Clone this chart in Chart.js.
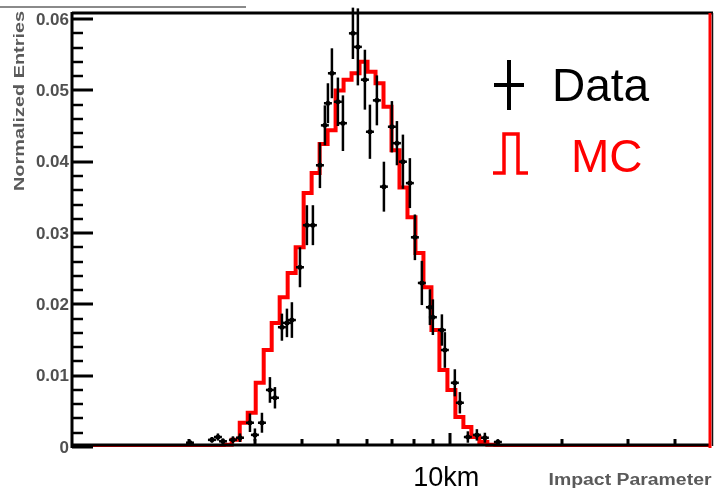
<!DOCTYPE html>
<html>
<head>
<meta charset="utf-8">
<script src="https://cdn.jsdelivr.net/npm/chart.js@4"></script>
<style>
  html, body { margin: 0; padding: 0; background: #fff; overflow: hidden; }
  canvas { display: block; }
</style>
</head>
<body>
<canvas id="chart" width="715" height="491"></canvas>
<script>
// ============ DATA ============

// MC histogram: one value per bin, bins 0..79 on the bin axis
const mcValues = [
    0, 0, 0, 0, 0, 0, 0, 0, 0, 0,
    0, 0, 0, 0, 0, 0, 0, 0, 0, 0,
    0.0003, 0.0010, 0.0034, 0.0048, 0.0090, 0.0136, 0.0174, 0.0210, 0.0244, 0.0280,
    0.0356, 0.0384, 0.0425, 0.0444, 0.0500, 0.0515, 0.0524, 0.0540, 0.0526, 0.0510,
    0.0477, 0.0416, 0.0364, 0.0322, 0.0272, 0.0224, 0.0164, 0.0108, 0.0080, 0.0042,
    0.0028, 0.0014, 0.0007, 0.0003, 0, 0, 0, 0, 0, 0,
    0, 0, 0, 0, 0, 0, 0, 0, 0, 0,
    0, 0, 0, 0, 0, 0, 0, 0, 0, 0
];

// Data points: position on the bin axis, value, symmetric error
const dataX = [
    14.77, 17.52, 18.27, 18.90, 20.15, 21.03, 22.28, 22.90, 23.78, 24.78,
    25.41, 26.28, 26.91, 27.53, 28.54, 29.41, 30.16, 31.04, 31.66, 32.04,
    32.54, 33.29, 33.92, 35.17, 35.79, 36.67, 37.30, 38.17, 39.05, 40.05,
    40.68, 41.43, 42.30, 42.93, 43.80, 44.81, 45.18, 46.31, 46.68, 47.93,
    48.56, 49.56, 50.69, 51.69, 53.32
];
const dataY = [
    0.0006, 0.0010, 0.0014, 0.0008, 0.0010, 0.0013, 0.0034, 0.0017, 0.0034, 0.0080,
    0.0069, 0.0168, 0.0174, 0.0178, 0.0252, 0.0311, 0.0311, 0.0395, 0.0451, 0.0482,
    0.0524, 0.0484, 0.0454, 0.0580, 0.0561, 0.0515, 0.0442, 0.0486, 0.0365, 0.0449,
    0.0426, 0.0400, 0.0370, 0.0294, 0.0230, 0.0196, 0.0182, 0.0164, 0.0136, 0.0090,
    0.0062, 0.0014, 0.0017, 0.0013, 0.0007
];
const dataErr = [
    0.0003, 0.0004, 0.0005, 0.0004, 0.0005, 0.0006, 0.0013, 0.0009, 0.0014, 0.0018,
    0.0015, 0.0019, 0.0020, 0.0025, 0.0028, 0.0028, 0.0028, 0.0032, 0.0028, 0.0028,
    0.0035, 0.0034, 0.0039, 0.0036, 0.0054, 0.0042, 0.0038, 0.0035, 0.0035, 0.0036,
    0.0031, 0.0038, 0.0035, 0.0032, 0.0031, 0.0025, 0.0025, 0.0022, 0.0025, 0.0019,
    0.0015, 0.0008, 0.0008, 0.0007, 0.0004
];

// Axis ticks
const yMajorTicks = [0, 0.01, 0.02, 0.03, 0.04, 0.05, 0.06];
const yMajorLabels = ["0", "0.01", "0.02", "0.03", "0.04", "0.05", "0.06"];
const yMinorStep = 0.002;
const xLogTicks = [2, 3, 4, 5, 6, 7, 8, 9, 10, 20, 30, 40];
const xLogMajor = [10];

const BIN_COUNT = 80;
const X_HALF_WIDTH = 0.5;

// ============ HELPERS ============

// draw text squeezed/stretched to a given width
function fillFitted(ctx, text, x, y, width) {
    const w = ctx.measureText(text).width;
    ctx.save();
    ctx.translate(x, y);
    ctx.scale(width / w, 1);
    ctx.textAlign = "center";
    ctx.fillText(text, 0, 0);
    ctx.restore();
}

function line(ctx, x1, y1, x2, y2) {
    ctx.beginPath();
    ctx.moveTo(x1, y1);
    ctx.lineTo(x2, y2);
    ctx.stroke();
}

// ============ FRAME / AXES PLUGIN ============

const frame = {
    id: "frame",
    beforeDatasetsDraw(chart) {
        const ctx = chart.ctx;
        ctx.save();
        // thin grey rule at the very top
        ctx.strokeStyle = "#8a8a8a";
        ctx.lineWidth = 2;
        line(ctx, 0, 7, 246, 7);
        ctx.restore();
    },
    afterDatasetsDraw(chart) {
        const ctx = chart.ctx;
        const area = chart.chartArea;
        const y = chart.scales.y;
        const xl = chart.scales.xl;
        const x = chart.scales.x;

        ctx.save();
        ctx.lineCap = "butt";

        // error bars for the data points
        ctx.strokeStyle = "#000";
        ctx.lineWidth = 2.5;
        dataX.forEach((xv, i) => {
            const px = x.getPixelForValue(xv);
            const py = y.getPixelForValue(dataY[i]);
            line(ctx, px, y.getPixelForValue(dataY[i] - dataErr[i]), px, y.getPixelForValue(dataY[i] + dataErr[i]));
            line(ctx, x.getPixelForValue(xv - X_HALF_WIDTH), py, x.getPixelForValue(xv + X_HALF_WIDTH), py);
        });

        // frame
        ctx.lineWidth = 3;
        ctx.strokeStyle = "#000";
        line(ctx, area.left, area.top, area.right + 2, area.top);
        line(ctx, area.left, area.top - 1, area.left, area.bottom + 1);
        line(ctx, area.left, area.bottom - 2, area.right, area.bottom - 2);
        ctx.strokeStyle = "#ff0000";
        line(ctx, area.right - 1, area.top, area.right - 1, area.bottom + 1);
        ctx.strokeStyle = "#111";
        ctx.lineWidth = 1.5;
        line(ctx, area.right + 1.5, area.top, area.right + 1.5, area.bottom - 1);

        // y ticks: minor every 0.002, major every 0.01
        ctx.strokeStyle = "#000";
        for (let v = 0; v <= 0.0601; v += yMinorStep) {
            const py = Math.round(y.getPixelForValue(v));
            const major = yMajorTicks.some(t => Math.abs(t - v) < 1e-6);
            ctx.lineWidth = major ? 3 : 2.5;
            line(ctx, area.left, py, area.left + (major ? 21 : 11), py);
        }

        // x ticks on the log scale
        xLogTicks.forEach(v => {
            const px = Math.round(xl.getPixelForValue(v));
            const len = xLogMajor.includes(v) ? 12 : 6;
            ctx.lineWidth = 3;
            line(ctx, px, area.bottom - 2, px, area.bottom - 2 - len);
        });

        // y tick labels
        ctx.fillStyle = "#505050";
        ctx.font = 'bold 17px "Liberation Sans", Arial, sans-serif';
        ctx.textAlign = "right";
        ctx.textBaseline = "middle";
        yMajorTicks.forEach((v, i) => {
            const py = y.getPixelForValue(v);
            ctx.fillText(yMajorLabels[i], area.left - 3, py + 1);
        });

        // axis titles
        ctx.fillStyle = "#5a5a5a";
        ctx.textBaseline = "middle";
        ctx.font = 'bold 15px "Liberation Sans", Arial, sans-serif';
        ctx.save();
        ctx.translate(20, 101);
        ctx.rotate(-Math.PI / 2);
        fillFitted(ctx, "Normalized Entries", 0, 0, 180);
        ctx.restore();
        ctx.font = 'bold 16px "Liberation Sans", Arial, sans-serif';
        fillFitted(ctx, "Impact Parameter", 630, 481, 163);

        // distance label under the 10 tick
        ctx.fillStyle = "#000";
        ctx.font = '27px "Liberation Sans", Arial, sans-serif';
        ctx.textAlign = "center";
        ctx.textBaseline = "alphabetic";
        ctx.fillText("10km", xl.getPixelForValue(10) - 4, 486);

        // legend
        ctx.strokeStyle = "#000";
        ctx.lineWidth = 4;
        line(ctx, 509, 60, 509, 110);
        line(ctx, 494, 85, 524, 85);
        ctx.textAlign = "left";
        ctx.font = '46px "Liberation Sans", Arial, sans-serif';
        ctx.fillText("Data", 552, 101);

        ctx.strokeStyle = "#ff0000";
        ctx.lineWidth = 3.5;
        ctx.beginPath();
        ctx.moveTo(493, 173);
        ctx.lineTo(504, 173);
        ctx.lineTo(504, 134);
        ctx.lineTo(518, 134);
        ctx.lineTo(518, 173);
        ctx.lineTo(528, 173);
        ctx.stroke();
        ctx.fillStyle = "#ff0000";
        ctx.fillText("MC", 571, 172);

        ctx.restore();
    }
};

// ============ CHART ============

const mcPoints = mcValues.map((v, i) => ({ x: i, y: v }));
mcPoints.push({ x: BIN_COUNT, y: mcValues[BIN_COUNT - 1] });

new Chart(document.getElementById("chart"), {
    type: "line",
    data: {
        datasets: [
            {
                label: "Data",
                data: dataX.map((x, i) => ({ x, y: dataY[i] })),
                showLine: false,
                pointRadius: 2.5,
                pointBackgroundColor: "#000",
                pointBorderColor: "#000",
                pointBorderWidth: 0,
                order: 0
            },
            {
                label: "MC",
                data: mcPoints,
                stepped: "after",
                borderColor: "#ff0000",
                borderWidth: 4,
                pointRadius: 0,
                fill: false,
                order: 1
            }
        ]
    },
    options: {
        responsive: false,
        devicePixelRatio: 1,
        animation: false,
        layout: { padding: { left: 72, right: 4, top: 13, bottom: 44 } },
        plugins: { legend: { display: false }, tooltip: { enabled: false } },
        scales: {
            x: { type: "linear", min: 0, max: BIN_COUNT, display: false },
            xl: { type: "logarithmic", axis: "x", position: "bottom", min: 0.97, max: 50, display: false },
            y: { type: "linear", min: 0, max: 0.06085, display: false }
        }
    },
    plugins: [frame]
});
</script>
</body>
</html>
